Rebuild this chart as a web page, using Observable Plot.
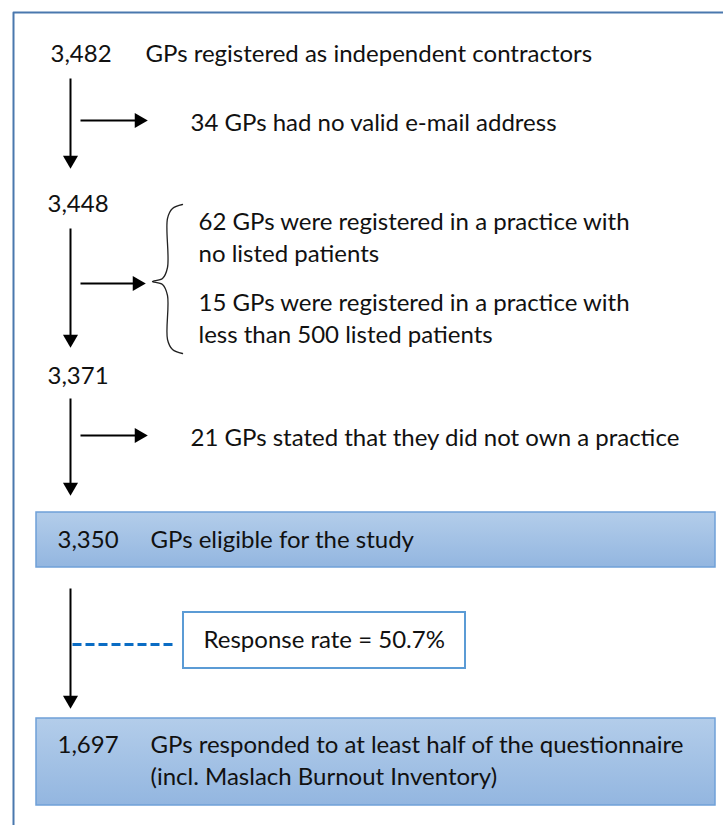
<!DOCTYPE html>
<html>
<head>
<meta charset="utf-8">
<script src="https://cdn.jsdelivr.net/npm/d3@7"></script>
<script src="https://cdn.jsdelivr.net/npm/@observablehq/plot@0.6"></script>
<style>
  html, body { margin: 0; padding: 0; background: #fff; }
  #chart svg { display: block; }
</style>
</head>
<body>
<div id="chart"></div>
<script>
// ---- Data (values and texts) ----
const stepCounts = ["3,482", "3,448", "3,371", "3,350", "1,697"];
const stepLabels = [
  ["GPs registered as independent contractors"],
  [],
  [],
  ["GPs eligible for the study"],
  ["GPs responded to at least half of the questionnaire", "(incl. Maslach Burnout Inventory)"]
];
const exclusionTexts = [
  ["34 GPs had no valid e-mail address"],
  ["62 GPs were registered in a practice with", "no listed patients"],
  ["15 GPs were registered in a practice with", "less than 500 listed patients"],
  ["21 GPs stated that they did not own a practice"]
];
const responseLabel = "Response rate = 50.7%";

// ---- Layout (page coordinates) ----
const W = 723, H = 825;
const font = "Lato, 'Open Sans', sans-serif";
const fs = 24;
const lineGap = 32;
const spineX = 70;
const stepY = [54, 204, 376, 540, 745];
const countX = [50, 47, 47, 57, 57];
const labelX = [145, 0, 0, 150, 150];
const boxes = [ {x1: 36, x2: 715, y1: 512, y2: 567}, {x1: 36, x2: 715, y1: 718, y2: 805} ];
const downArrows = [ {y1: 78, y2: 168}, {y1: 228, y2: 347}, {y1: 398, y2: 495}, {y1: 588, y2: 708} ];
const sideArrows = [ {y: 120, x1: 80, x2: 147}, {y: 283, x1: 80, x2: 145}, {y: 435, x1: 80, x2: 147} ];
const exclusionPos = [ {x: 190, y: 123}, {x: 198, y: 222}, {x: 198, y: 303}, {x: 190, y: 438} ];
const respBox = {x1: 183, x2: 465, y1: 612, y2: 668};

const countRows = stepCounts.map((c, i) => ({text: c, x: countX[i], y: stepY[i]}));
const labelRows = stepLabels.flatMap((lines, i) => lines.map((t, j) => ({text: t, x: labelX[i], y: stepY[i] + j * lineGap})));
const exclRows = exclusionTexts.flatMap((lines, i) => lines.map((t, j) => ({text: t, x: exclusionPos[i].x, y: exclusionPos[i].y + j * lineGap})));

// arrow heads: triangle centroid sits 2/3 of height back from tip
const headR = 5.6;
const headOff = 8.4;
const downHeads = downArrows.map(a => ({x: spineX, y: a.y2 - headOff}));
const downShafts = downArrows.map(a => ({x: spineX, y1: a.y1, y2: a.y2 - 10}));
const sideHeads = sideArrows.map(a => ({x: a.x2 - headOff, y: a.y}));
const sideShafts = sideArrows.map(a => ({y: a.y, x1: a.x1, x2: a.x2 - 10}));

// curly brace (left-opening) beside the two exclusion notes
const bx = 167, btop = 204, bbot = 353, bmid = 281;
const brace = [
  [182, btop], [172, btop + 4], [bx, btop + 14], [bx, bmid - 14], [162, bmid - 3], [152, bmid],
  [162, bmid + 3], [bx, bmid + 14], [bx, bbot - 14], [172, bbot - 4], [182, bbot]
].map(([x, y]) => ({x, y}));

const frame = [{x: 13, y: H}, {x: 13, y: 12}, {x: W, y: 12}];

const plot = Plot.plot({
  width: W,
  height: H,
  margin: 0,
  x: {domain: [0, W], range: [0, W], axis: null},
  y: {domain: [0, H], range: [0, H], axis: null},
  style: {fontFamily: font, background: "white"},
  marks: [
    Plot.line(frame, {x: "x", y: "y", stroke: "#4a78ae", strokeWidth: 2}),
    Plot.rect(boxes, {x1: "x1", x2: "x2", y1: "y1", y2: "y2", fill: "url(#boxGrad)", stroke: "#6fa0d8", strokeWidth: 1.5}),
    Plot.link(downShafts, {x1: "x", x2: "x", y1: "y1", y2: "y2", stroke: "black", strokeWidth: 2}),
    Plot.dot(downHeads, {x: "x", y: "y", symbol: "triangle", r: headR, fill: "black", stroke: "none", rotate: 180}),
    Plot.link(sideShafts, {x1: "x1", x2: "x2", y1: "y", y2: "y", stroke: "black", strokeWidth: 2}),
    Plot.dot(sideHeads, {x: "x", y: "y", symbol: "triangle", r: headR, fill: "black", stroke: "none", rotate: 90}),
    Plot.line(brace, {x: "x", y: "y", curve: "catmull-rom", stroke: "#222", strokeWidth: 1.3}),
    Plot.link([{x1: spineX + 2, x2: 176, y: 644}], {x1: "x1", x2: "x2", y1: "y", y2: "y", stroke: "#0a6cc4", strokeWidth: 3, strokeDasharray: "9,4"}),
    Plot.rect([respBox], {x1: "x1", x2: "x2", y1: "y1", y2: "y2", fill: "white", stroke: "#5b9bd5", strokeWidth: 2}),
    Plot.text([responseLabel], {x: 203, y: 640, text: d => d, textAnchor: "start", fontSize: fs, fill: "#111"}),
    Plot.text(countRows, {x: "x", y: "y", text: "text", textAnchor: "start", fontSize: fs, fill: "#111"}),
    Plot.text(labelRows, {x: "x", y: "y", text: "text", textAnchor: "start", fontSize: fs, fill: "#111"}),
    Plot.text(exclRows, {x: "x", y: "y", text: "text", textAnchor: "start", fontSize: fs, fill: "#111"})
  ]
});

// gradient definition for the blue boxes
const ns = "http://www.w3.org/2000/svg";
const defs = document.createElementNS(ns, "defs");
defs.innerHTML = `<linearGradient id="boxGrad" x1="0" y1="0" x2="0" y2="1">
  <stop offset="0" stop-color="#b3cdea"/><stop offset="1" stop-color="#93b6e0"/></linearGradient>`;
plot.insertBefore(defs, plot.firstChild);

document.getElementById("chart").appendChild(plot);
</script>
</body>
</html>
